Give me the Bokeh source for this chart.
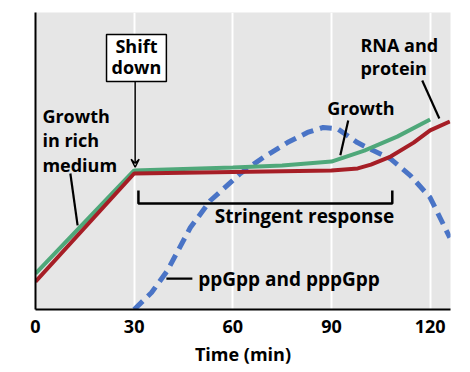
from bokeh.plotting import figure
from bokeh.models import Range1d, Label, Arrow, VeeHead, FixedTicker
from bokeh.embed import file_html
from bokeh.resources import INLINE

# Data (time in min, arbitrary units 0-100)
growth_t = [0, 30, 60, 75, 90, 100, 110, 120]
growth_y = [12.1, 46.8, 47.8, 48.5, 49.8, 53.5, 58.2, 64.0]

rna_t = [0, 30, 60, 90, 98, 102, 108, 115, 120, 126]
rna_y = [9.4, 45.8, 46.3, 46.8, 47.5, 48.8, 51.5, 56.2, 60.3, 63.3]

ppgpp_t = [30, 35.3, 40.1, 47.1, 53.2, 62.3, 69.3, 76.6, 82.7, 87.5, 91.8, 97.9, 102.7, 107.9, 114, 120, 126]
ppgpp_y = [0, 5.7, 13.1, 27.6, 36.7, 45.8, 51.2, 56.2, 59.6, 61.3, 60.9, 56.2, 53.5, 50.8, 45.1, 37.7, 24.2]

x_ticks = [0, 30, 60, 90, 120]

FONT = "Open Sans"

p = figure(frame_width=415, frame_height=297, output_backend="svg", toolbar_location=None,
           x_range=Range1d(0, 126.2), y_range=Range1d(0, 100),
           min_border_left=35, min_border_right=12, min_border_top=12, min_border_bottom=40)
p.background_fill_color = "#e6e6e6"
p.border_fill_color = "white"
p.outline_line_color = None

p.xgrid.ticker = FixedTicker(ticks=[30, 60, 90, 120])
p.xgrid.grid_line_color = "white"
p.xgrid.grid_line_width = 2
p.ygrid.grid_line_color = None

p.xaxis.ticker = FixedTicker(ticks=x_ticks)
p.xaxis.axis_line_color = "black"
p.xaxis.axis_line_width = 2
p.xaxis.major_tick_line_color = None
p.xaxis.minor_tick_line_color = None
p.xaxis.major_label_text_font = FONT
p.xaxis.major_label_text_font_style = "bold"
p.xaxis.major_label_text_font_size = "18px"
p.xaxis.major_label_text_color = "black"
p.xaxis.major_label_standoff = 4
p.xaxis.axis_label = "Time (min)"
p.xaxis.axis_label_text_font = FONT
p.xaxis.axis_label_text_font_style = "bold"
p.xaxis.axis_label_text_font_size = "18px"
p.xaxis.axis_label_text_color = "black"
p.xaxis.axis_label_standoff = 6

p.yaxis.ticker = FixedTicker(ticks=[])
p.yaxis.axis_line_color = "black"
p.yaxis.axis_line_width = 2
p.yaxis.major_tick_line_color = None
p.yaxis.minor_tick_line_color = None

# Curves
p.line(ppgpp_t, ppgpp_y, line_color="#4a74c6", line_width=5, line_dash="12 7")
p.line(growth_t, growth_y, line_color="#4fa87a", line_width=4)
p.line(rna_t, rna_y, line_color="#a61e26", line_width=4)

# Stringent response bracket
p.line([31.3, 31.3, 108.5, 108.5], [40.1, 35.7, 35.7, 40.1], line_color="black", line_width=2.5)

# Leader lines
p.segment(x0=[10.6, 39.8, 95.1, 117.6], y0=[45.8, 10.4, 63.6, 77.1],
          x1=[12.8, 47.7, 92.7, 122.8], y1=[28.3, 10.4, 51.9, 64.3],
          line_color="black", line_width=2.2)

# Shift down box and arrow
p.quad(left=[21.6], right=[39.8], top=[92.6], bottom=[76.8],
       fill_color="white", line_color="black", line_width=1.5)
p.add_layout(Arrow(end=VeeHead(size=8, line_color="black", line_width=1.5, fill_color=None),
                   x_start=30.3, y_start=76.8, x_end=30.3, y_end=47.9,
                   line_color="black", line_width=1.5))

def lab(x, y, text, align="left", size="18px"):
    p.add_layout(Label(x=x, y=y, text=text, text_font=FONT, text_font_style="bold",
                       text_font_size=size, text_color="black",
                       text_align=align, text_baseline="middle"))

lab(2.1, 65.0, "Growth")
lab(2.1, 57.0, "in rich")
lab(2.1, 48.8, "medium")
lab(30.7, 88.6, "Shift", align="center")
lab(30.7, 81.5, "down", align="center")
lab(98.8, 89.0, "RNA and")
lab(98.8, 81.2, "protein")
lab(88.7, 68.0, "Growth")
lab(81.8, 31.4, "Stringent response", align="center", size="19px")
lab(49.5, 10.4, "ppGpp and pppGpp", size="19px")

open("out.html", "w").write(file_html(p, INLINE))
